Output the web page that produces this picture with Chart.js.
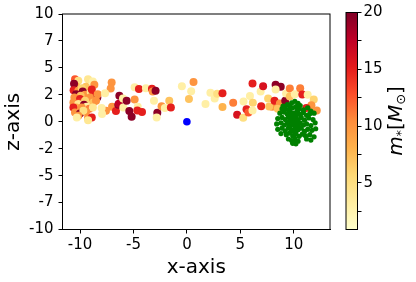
<!DOCTYPE html>
<html>
<head>
<meta charset="utf-8">
<script src="https://cdn.jsdelivr.net/npm/chart.js@4.4.1/dist/chart.umd.min.js"></script>
<style>
  html, body { margin: 0; padding: 0; background: #fff; }
  #wrap { position: relative; width: 416px; height: 282px; }
  #wrap canvas { position: absolute; left: 0; top: 0; }
</style>
</head>
<body>
<div id="wrap">
  <canvas id="main" width="416" height="282"></canvas>
  <canvas id="cbar" width="416" height="282"></canvas>
</div>
<script>
// stars: x, z and mass (colour)
const starX = [
  -10.47, -10.16, -9.25, -8.8, -8.66, -9.44, -10.37, -10.56, -10.6, -10.16, -9.84, -9.75, -10.37, -9.53, -9.0, -8.9,
  -8.75, -8.38, -8.35, -9.94, -10.53, -10.0, -9.22, -9.07, -10.62, -10.06, -9.53, -10.16, -9.63, -9.38, -8.75, -8.5,
  -10.37, -10.62, -9.84, -9.13, -8.8, -10.47, -10.0, -9.44, -9.69, -10.16, -10.3, -9.25, -8.9, -9.25,
  -7.04, -7.13, -7.66, -7.57, -7.98, -7.94, -7.0, -6.64, -6.42, -6.32, -6.37, -5.98, -5.95, -5.64, -5.39, -5.17,
  -4.89, -4.49, -4.89, -4.6, -4.64, -4.2, -3.83, -3.27, -3.2, -2.93, -3.08, -2.77, -2.83, -2.37, -2.06, -1.65, -1.5,
  0.62, -0.47, 0.4, 0.19, 1.74, 2.2, 2.6, 2.83, 3.33, 3.33, 4.33, 4.7, 5.3, 5.27, 5.58, 5.76,
  5.9, 6.17, 6.14, 6.14, 6.9, 7.13, 6.95, 7.6, 7.98, 7.7, 8.2, 8.3, 8.78, 8.3, 8.7, 9.2,
  9.28, 9.63, 9.63, 10.1, 10.6, 10.8, 11.3, 11.87, 11.65, 11.18, 12.15, 8.94, 8.5
];
const starZ = [
  3.95, 3.8, 3.95, 3.73, 3.43, 3.24, 3.3, 3.52, 2.93, 2.87, 3.12, 2.81, 2.56, 2.5, 2.72, 3.0,
  2.5, 2.25, 2.56, 2.41, 2.25, 2.1, 2.0, 2.25, 1.79, 1.79, 1.94, 1.64, 1.57, 1.39, 1.79, 1.94,
  1.33, 1.33, 1.33, 1.2, 1.33, 0.86, 0.77, 0.93, 1.02, 0.56, 0.4, 0.4, 0.4, 0.15,
  3.64, 3.09, 2.65, 1.02, 1.27, 0.71, 1.39, 0.99, 1.57, 2.41, 1.68, 2.16, 1.33, 1.94, 0.99, 0.46,
  3.21, 3.03, 2.07, 1.39, 1.05, 0.9, 3.12, 3.06, 2.81, 2.87, 1.94, 0.83, 0.4, 1.45, 1.27, 1.94, 1.33,
  3.7, 3.3, 2.84, 2.1, 1.64, 2.7, 2.16, 2.6, 2.65, 1.36, 1.76, 0.65, 1.88, 0.37, 1.17, 0.86,
  2.4, 1.76, 1.05, 3.55, 2.8, 3.3, 1.45, 2.16, 1.39, 1.42, 1.94, 3.43, 3.24, 3.0, 1.7, 1.94,
  2.62, 3.09, 2.35, 2.56, 3.12, 2.53, 2.5, 2.07, 1.54, 1.27, 1.05, 1.17, 1.2
];
const starMass = [
  12.5, 5, 4, 3, 10, 7, 8, 19.5, 15, 10, 6, 19.5, 19.5, 10, 4, 15,
  15, 19.5, 10, 7, 10, 15, 3, 10, 10, 14, 6, 4, 19.5, 3, 7, 10,
  8, 15, 10, 11, 4, 10, 19.5, 10, 5, 10, 3, 10, 15, 4,
  10, 10, 3, 10, 3, 3, 10, 15, 19.5, 19.5, 17.5, 3, 3, 19.5, 19.5, 19.5,
  3, 15, 10, 3, 15, 15, 3, 15, 10, 19.5, 3, 19.5, 3, 10, 3, 7, 15,
  10, 3, 3, 7, 3, 3, 3, 5, 15, 8, 11, 16, 3, 5, 15, 12.5,
  3, 6, 3, 15, 3, 16, 15, 6, 10, 7, 15, 19.5, 19.5, 3, 10, 19.5,
  3, 11, 7, 3, 11, 15, 3, 6, 10, 15, 10, 10, 7
];

// gas blob around x = 10
const gasX = [
  9.4, 9.8, 10.1, 10.4, 9.6, 10.6,
  8.9, 9.2, 9.5, 9.9, 10.2, 10.5, 10.9, 11.3, 11.6, 9.0,
  8.7, 9.1, 9.4, 9.7, 10.0, 10.3, 10.6, 10.9, 11.2, 11.5, 11.9, 9.8,
  8.5, 8.9, 9.2, 9.5, 9.8, 10.1, 10.4, 10.7, 11.0, 11.4, 11.8, 10.0, 9.6,
  8.4, 8.8, 9.1, 9.4, 9.7, 10.0, 10.3, 10.6, 10.9, 11.2, 11.6, 12.0, 9.9, 10.2,
  8.5, 8.9, 9.2, 9.5, 9.8, 10.1, 10.4, 10.7, 11.0, 11.3, 11.7, 12.05,
  8.8, 9.3, 9.6, 9.9, 10.2, 10.5, 10.8, 11.1, 11.5, 11.9,
  9.5, 9.8, 10.1, 10.4, 11.2, 11.6,
  9.9, 10.2, 10.0,
  9.75, 10.25, 10.45, 9.55, 10.05, 10.35, 9.65, 10.15
];
const gasZ = [
  1.6, 1.75, 1.9, 1.7, 1.5, 1.5,
  1.2, 1.3, 1.1, 1.3, 1.4, 1.2, 1.1, 1.3, 1.0, 1.45,
  0.8, 0.9, 0.7, 0.9, 0.8, 0.95, 0.7, 0.85, 0.6, 0.75, 0.8, 0.6,
  0.3, 0.4, 0.2, 0.45, 0.3, 0.5, 0.2, 0.4, 0.15, 0.35, 0.2, 0.1, 0.05,
  -0.2, -0.1, -0.3, -0.15, -0.35, -0.2, -0.4, -0.1, -0.3, -0.2, -0.35, -0.1, -0.05, -0.05,
  -0.7, -0.6, -0.85, -0.6, -0.8, -0.55, -0.75, -0.6, -0.9, -0.7, -0.8, -0.65,
  -1.1, -1.2, -1.05, -1.3, -1.1, -1.35, -1.15, -1.3, -1.2, -1.4,
  -1.6, -1.75, -1.55, -1.8, -1.6, -1.7,
  -2.0, -2.05, -1.9,
  0.2, 0.6, -0.45, -0.45, -0.95, 1.05, 1.2, 0.35
];

const centerX = [0];
const centerZ = [0];

const xTicks = [-10, -5, 0, 5, 10];
const zTicks = [10, 7.5, 5, 2.5, 0, -2.5, -5, -7.5, -10];
const zTickLabels = ['10', '7', '5', '2', '0', '-2', '-5', '-7', '-10'];
const massTicks = [2.5, 5, 7.5, 10, 12.5, 15, 17.5, 20];
const massMin = 0.9, massMax = 20;

const FONT = "'DejaVu Sans', sans-serif";
const PLOT = { left: 62.5, right: 330, top: 12.5, bottom: 229.5 };
const CBAR = { left: 346, right: 357.5 };

// YlOrRd
const ylorrd = ['#ffffcc', '#ffeda0', '#fed976', '#feb24c', '#fd8d3c', '#fc4e2a', '#e31a1c', '#bd0026', '#800026'];

function hexRgb(h) {
  return [parseInt(h.substr(1, 2), 16), parseInt(h.substr(3, 2), 16), parseInt(h.substr(5, 2), 16)];
}

function massColor(m) {
  let t = (m - massMin) / (massMax - massMin);
  t = Math.max(0, Math.min(1, t));
  const p = t * (ylorrd.length - 1);
  const i = Math.min(ylorrd.length - 2, Math.floor(p));
  const f = p - i;
  const a = hexRgb(ylorrd[i]), b = hexRgb(ylorrd[i + 1]);
  const c = a.map((v, k) => Math.round(v + (b[k] - v) * f));
  return `rgb(${c[0]},${c[1]},${c[2]})`;
}

const framePlugin = {
  id: 'frame',
  afterDraw(chart) {
    const a = chart.chartArea;
    const ctx = chart.ctx;
    ctx.save();
    ctx.strokeStyle = '#000';
    ctx.lineWidth = 1;
    ctx.strokeRect(a.left, a.top, a.right - a.left, a.bottom - a.top);
    ctx.restore();
  }
};

new Chart(document.getElementById('main'), {
  type: 'scatter',
  data: {
    datasets: [
      {
        data: centerX.map((x, i) => ({ x: x, y: centerZ[i] })),
        backgroundColor: '#0000ff',
        borderWidth: 0,
        pointRadius: 3.8,
        order: 1
      },
      {
        data: gasX.map((x, i) => ({ x: x, y: gasZ[i] })),
        backgroundColor: '#008000',
        borderWidth: 0,
        pointRadius: 2.6,
        order: 2
      },
      {
        data: starX.map((x, i) => ({ x: x, y: starZ[i] })),
        backgroundColor: starMass.map(massColor),
        borderWidth: 0,
        pointRadius: 4,
        order: 3
      }
    ]
  },
  options: {
    responsive: false,
    animation: false,
    events: [],
    layout: { padding: { left: 0, top: PLOT.top, right: 416 - PLOT.right, bottom: 0 }, autoPadding: false },
    plugins: { legend: { display: false }, tooltip: { enabled: false } },
    scales: {
      x: {
        type: 'linear',
        min: -11.64,
        max: 13.39,
        afterBuildTicks: s => { s.ticks = xTicks.map(v => ({ value: v })); },
        afterFit: s => { s.height = 282 - PLOT.bottom; },
        ticks: { font: { family: FONT, size: 15 }, color: '#000', padding: 3, maxRotation: 0 },
        grid: { drawOnChartArea: false, tickLength: 4, color: '#000' },
        border: { color: '#000' },
        title: { display: true, text: 'x-axis', color: '#000', font: { family: FONT, size: 20 }, padding: { top: 0, bottom: 2 } }
      },
      y: {
        type: 'linear',
        min: -10,
        max: 10,
        afterBuildTicks: s => { s.ticks = zTicks.map(v => ({ value: v })); },
        afterFit: s => { s.width = PLOT.left; },
        ticks: {
          font: { family: FONT, size: 15 }, color: '#000', padding: 5,
          callback: (v, i) => zTickLabels[i]
        },
        grid: { drawOnChartArea: false, tickLength: 4, color: '#000' },
        border: { color: '#000' },
        title: { display: true, text: 'z-axis', color: '#000', font: { family: FONT, size: 20 }, padding: 2 }
      }
    }
  },
  plugins: [framePlugin]
});

// colour bar
const colorbarPlugin = {
  id: 'colorbar',
  afterDraw(chart) {
    const a = chart.chartArea;
    const ctx = chart.ctx;
    const sy = chart.scales.y;
    ctx.save();
    const g = ctx.createLinearGradient(0, sy.getPixelForValue(massMin), 0, sy.getPixelForValue(massMax));
    ylorrd.forEach((c, i) => g.addColorStop(i / (ylorrd.length - 1), c));
    ctx.fillStyle = g;
    ctx.fillRect(a.left, a.top, a.right - a.left, a.bottom - a.top);
    ctx.strokeStyle = '#000';
    ctx.lineWidth = 1;
    ctx.strokeRect(a.left, a.top, a.right - a.left, a.bottom - a.top);

    // label m_*[M_sun], rotated
    const parts = [
      { t: 'm', f: 'italic 20px ' + FONT, dy: 0 },
      { t: '*', f: '13px ' + FONT, dy: 3 },
      { t: '[', f: '20px ' + FONT, dy: 0 },
      { t: 'M', f: 'italic 20px ' + FONT, dy: 0 },
      { t: '⊙', f: '13px ' + FONT, dy: 3 },
      { t: ']', f: '20px ' + FONT, dy: 0 }
    ];
    let total = 0;
    parts.forEach(p => { ctx.font = p.f; p.w = ctx.measureText(p.t).width; total += p.w; });
    ctx.translate(402, 121);
    ctx.rotate(-Math.PI / 2);
    ctx.fillStyle = '#000';
    ctx.textBaseline = 'alphabetic';
    let x = -total / 2;
    parts.forEach(p => { ctx.font = p.f; ctx.fillText(p.t, x, p.dy); x += p.w; });
    ctx.restore();
  }
};

new Chart(document.getElementById('cbar'), {
  type: 'scatter',
  data: { datasets: [] },
  options: {
    responsive: false,
    animation: false,
    events: [],
    layout: { padding: { left: CBAR.left, top: PLOT.top, right: 0, bottom: 282 - PLOT.bottom }, autoPadding: false },
    plugins: { legend: { display: false }, tooltip: { enabled: false } },
    scales: {
      x: { display: false, min: 0, max: 1 },
      y: {
        position: 'right',
        min: massMin,
        max: massMax,
        afterBuildTicks: s => { s.ticks = massTicks.map(v => ({ value: v })); },
        afterFit: s => { s.width = 416 - CBAR.right; },
        ticks: {
          font: { family: FONT, size: 15 }, color: '#000', padding: 2,
          callback: v => (v % 5 === 0 ? String(v) : '')
        },
        grid: { drawOnChartArea: false, tickLength: 4, color: '#000' },
        border: { display: false }
      }
    }
  },
  plugins: [colorbarPlugin]
});
</script>
</body>
</html>
